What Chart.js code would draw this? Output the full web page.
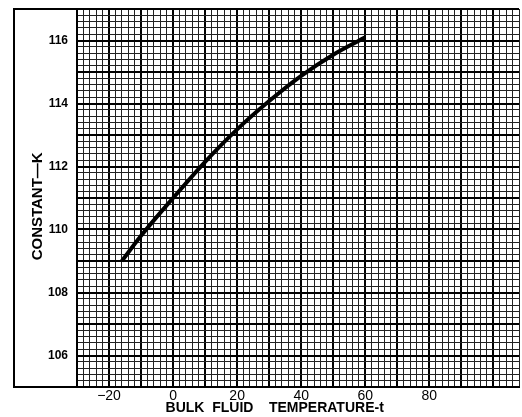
<!DOCTYPE html>
<html>
<head>
<meta charset="utf-8">
<script src="https://cdn.jsdelivr.net/npm/chart.js@4.4.1/dist/chart.umd.min.js"></script>
<style>
  html, body { margin: 0; padding: 0; background: #fff; }
  #wrap { width: 522px; height: 417px; }
</style>
</head>
<body>
<div id="wrap"><canvas id="c" width="522" height="417"></canvas></div>
<script>
// ---- data ----
const temperatures = [-16, -10, 0, 10, 20, 30, 40, 50, 60];
const kValues      = [109.0, 109.8, 111.0, 112.15, 113.18, 114.08, 114.88, 115.55, 116.1];

const xTickLabels = [-20, 0, 20, 40, 60, 80];
const yTickLabels = [106, 108, 110, 112, 114, 116];

const xTitle = 'BULK  FLUID    TEMPERATURE-t            ';
const yTitle = 'CONSTANT\u2014K    ';

const xMin = -30, xMax = 108, xStep = 2, xMajor = 10;
const yMin = 105, yMax = 117, yStep = 0.2, yMajor = 1;

function isMultiple(v, m) {
  const r = v / m;
  return Math.abs(r - Math.round(r)) < 1e-6;
}

const frameBox = {
  id: 'frameBox',
  afterDraw(chart) {
    const ctx = chart.ctx;
    const a = chart.chartArea;
    ctx.save();
    ctx.strokeStyle = '#000';
    ctx.lineWidth = 2;
    ctx.beginPath();
    ctx.moveTo(a.left, a.top);
    ctx.lineTo(14, a.top);
    ctx.lineTo(14, a.bottom);
    ctx.lineTo(a.left, a.bottom);
    ctx.stroke();
    ctx.restore();
  }
};

const FONT = "'Liberation Sans', Arial, sans-serif";

new Chart(document.getElementById('c'), {
  type: 'line',
  data: {
    datasets: [{
      data: temperatures.map((t, i) => ({ x: t, y: kValues[i] })),
      borderColor: '#000',
      borderWidth: 4,
      pointRadius: 0,
      fill: false,
      cubicInterpolationMode: 'monotone',
      borderCapStyle: 'butt'
    }]
  },
  options: {
    responsive: false,
    animation: false,
    layout: { padding: { left: 0, top: 9, right: 3, bottom: 0 } },
    plugins: { legend: { display: false }, tooltip: { enabled: false } },
    scales: {
      x: {
        type: 'linear',
        min: xMin, max: xMax,
        afterFit(scale) { scale.height = 30; scale.paddingLeft = 0; scale.paddingRight = 0; },
        border: { display: true, color: '#000', width: 2 },
        grid: {
          drawTicks: false,
          color: (c) => (c.tick && isMultiple(c.tick.value, xMajor)) ? '#000' : '#222',
          lineWidth: (c) => (c.tick && isMultiple(c.tick.value, xMajor)) ? 2 : 1
        },
        ticks: {
          stepSize: xStep,
          autoSkip: false,
          maxRotation: 0,
          maxTicksLimit: 1000,
          padding: 1,
          color: '#000',
          font: { family: FONT, size: 14 },
          callback(v) {
            const r = Math.round(v);
            if (Math.abs(v - r) < 1e-6 && xTickLabels.includes(r)) {
              return r < 0 ? '\u2212' + Math.abs(r) : String(r);
            }
            return '';
          }
        },
        title: {
          display: true,
          text: xTitle,
          color: '#000',
          font: { family: FONT, size: 14, weight: 'bold' },
          padding: { top: 0, bottom: 0 }
        }
      },
      y: {
        type: 'linear',
        min: yMin, max: yMax,
        afterFit(scale) { scale.width = 77; scale.paddingTop = 0; scale.paddingBottom = 0; },
        border: { display: true, color: '#000', width: 2 },
        grid: {
          drawTicks: false,
          color: (c) => (c.tick && isMultiple(c.tick.value, yMajor)) ? '#000' : '#222',
          lineWidth: (c) => (c.tick && isMultiple(c.tick.value, yMajor)) ? 2 : 1
        },
        ticks: {
          stepSize: yStep,
          autoSkip: false,
          maxTicksLimit: 1000,
          padding: 9,
          color: '#000',
          font: { family: "'Liberation Sans Narrow', " + FONT, size: 12, weight: 'bold' },
          callback(v) {
            const r = Math.round(v);
            if (Math.abs(v - r) < 1e-6 && yTickLabels.includes(r)) return String(r);
            return '';
          }
        },
        title: {
          display: true,
          text: yTitle,
          color: '#000',
          font: { family: FONT, size: 15, weight: 'bold' },
          padding: { top: 29, bottom: 0 }
        }
      }
    }
  },
  plugins: [frameBox]
});
</script>
</body>
</html>
